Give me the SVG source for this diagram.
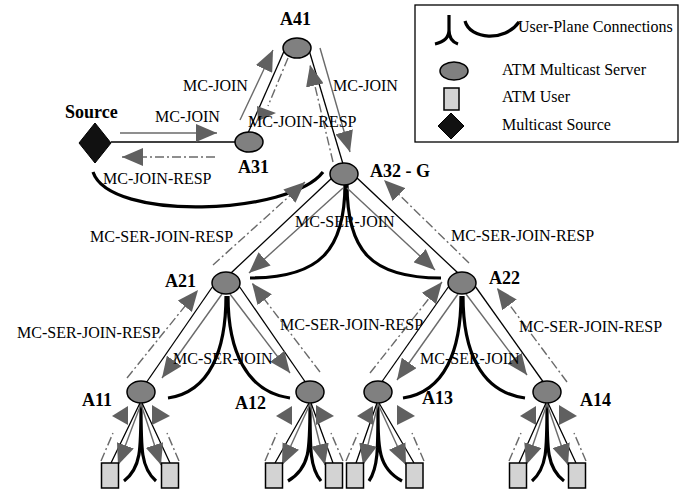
<svg xmlns="http://www.w3.org/2000/svg" width="688" height="489" viewBox="0 0 688 489">
<style>
.edge{stroke:#000;stroke-width:1.3;fill:none}
.up{stroke:#000;stroke-width:3.2;fill:none}
.req{stroke:#6a6a6a;stroke-width:1.4;fill:none;marker-end:url(#ah)}
.resp{stroke:#6a6a6a;stroke-width:1.4;stroke-dasharray:9 3 2 3;fill:none}
.respa{stroke:#6a6a6a;stroke-width:1.4;stroke-dasharray:9 3 2 3;fill:none;marker-end:url(#ah)}
.tri{fill:#606060}
.srv{fill:#808080;stroke:#000;stroke-width:1.5}
.usr{fill:#d3d3d3;stroke:#000;stroke-width:1.5}
.src{fill:#111;stroke:#000;stroke-width:1}
text{font-family:"Liberation Serif","Times New Roman",serif;fill:#000}
.lbl{font-size:16px}
.nl{font-size:18px;font-weight:bold}
.leg{font-size:16px}
</style>
<defs>
<marker id="ah" markerWidth="21" markerHeight="18" refX="21" refY="9" orient="auto" markerUnits="userSpaceOnUse">
<path d="M0,0 L21,9 L0,18 z" fill="#606060"/>
</marker>
</defs>
<rect width="688" height="489" fill="#fff"/>

<g id="legend">
<rect x="415" y="5" width="263" height="137" fill="none" stroke="#000" stroke-width="1.3"/>
<path class="up" d="M449,15 L449,30 C449,38 444,42 435,44 M449,30 C449,38 452,42 458,44"/>
<path class="up" d="M465,21 C470,40 505,42 519,22"/>
<text class="leg" x="518" y="32">User-Plane Connections</text>
<ellipse class="srv" cx="454" cy="71" rx="14" ry="9"/>
<text class="leg" x="502" y="75">ATM Multicast Server</text>
<rect class="usr" x="444" y="88" width="15" height="22"/>
<text class="leg" x="502" y="102">ATM User</text>
<polygon class="src" points="451,113 464,126 451,139 438,126"/>
<text class="leg" x="502" y="130">Multicast Source</text>
</g>

<g id="connectors">
<path class="edge" d="M111,142 L235,142"/>
<path class="edge" d="M248,133 L285,49"/>
<path class="edge" d="M309,50 L343,164"/>
<path class="edge" d="M333,177 L231,273"/>
<path class="edge" d="M356,177 L458,273"/>
<path class="edge" d="M213,286 L146,383"/>
<path class="edge" d="M239,286 L306,383"/>
<path class="edge" d="M449,286 L381,383"/>
<path class="edge" d="M475,286 L544,383"/>
<path class="up" d="M93,172 C110,222 290,215 323,172"/>
<path class="up" d="M345,184 C345,250 320,278 250,278"/>
<path class="up" d="M347,184 C347,250 370,278 441,278"/>
<path class="up" d="M226,296 C226,350 210,392 168,398"/>
<path class="up" d="M228,296 C228,350 246,392 290,398"/>
<path class="up" d="M461,296 C461,350 445,392 403,398"/>
<path class="up" d="M463,296 C463,350 480,392 525,398"/>
<path class="req" d="M120,133 L217,133"/>
<path class="respa" d="M215,157 L122,157"/>
<path class="req" d="M240,120 L273,50"/>
<path class="resp" d="M288,58 L268,106"/>
<polygon class="tri" points="257,106 276,113 258,121"/>
<path class="req" d="M320,48 L350,152"/>
<path class="respa" d="M333,162 L310,65"/>
<path class="req" d="M343,188 L249,273"/>
<path class="req" d="M347,188 L435,270"/>
<path class="respa" d="M213,265 L305,182"/>
<path class="respa" d="M469,263 L384,180"/>
<path class="req" d="M222,294 L162,378"/>
<path class="req" d="M230,294 L290,373"/>
<path class="respa" d="M127,378 L198,290"/>
<path class="respa" d="M320,372 L252,283"/>
<path class="req" d="M458,294 L397,380"/>
<path class="req" d="M466,294 L527,375"/>
<path class="respa" d="M370,373 L442,282"/>
<path class="respa" d="M567,382 L497,288"/>
<path class="edge" d="M140,403 L111,463 M142,403 L170,463"/>
<path class="up" d="M141,404 C141,450 141,468 124,481 M141,404 C141,450 141,468 156,481"/>
<path class="req" d="M141,404 L118,465"/>
<path class="req" d="M141,404 L161,465"/>
<path class="resp" d="M101,461 L113,433 M179,461 L167,433"/>
<polygon class="tri" points="112,416 128,406 128,425"/>
<polygon class="tri" points="152,405 170,416 152,425"/>
<path class="edge" d="M309,403 L275,463 M311,403 L333,463"/>
<path class="up" d="M310,404 C310,450 310,468 288,481 M310,404 C310,450 310,468 321,481"/>
<path class="req" d="M310,404 L282,465"/>
<path class="req" d="M310,404 L325,465"/>
<path class="resp" d="M265,461 L277,433 M343,461 L331,433"/>
<polygon class="tri" points="276,416 292,406 292,425"/>
<polygon class="tri" points="316,405 334,416 316,425"/>
<path class="edge" d="M377,403 L356,463 M379,403 L414,463"/>
<path class="up" d="M378,404 C378,450 378,468 369,481 M378,404 C378,450 378,468 402,481"/>
<path class="req" d="M378,404 L363,465"/>
<path class="req" d="M378,404 L406,465"/>
<path class="resp" d="M346,461 L358,433 M424,461 L412,433"/>
<polygon class="tri" points="357,416 373,406 373,425"/>
<polygon class="tri" points="397,405 415,416 397,425"/>
<path class="edge" d="M546,403 L519,463 M548,403 L576,463"/>
<path class="up" d="M547,404 C547,450 547,468 532,481 M547,404 C547,450 547,468 564,481"/>
<path class="req" d="M547,404 L526,465"/>
<path class="req" d="M547,404 L568,465"/>
<path class="resp" d="M509,461 L521,433 M586,461 L574,433"/>
<polygon class="tri" points="520,416 536,406 536,425"/>
<polygon class="tri" points="559,405 577,416 559,425"/>
<text class="lbl" x="155" y="122">MC-JOIN</text>
<text class="lbl" x="103" y="184">MC-JOIN-RESP</text>
<text class="lbl" x="183" y="91">MC-JOIN</text>
<text class="lbl" x="333" y="91">MC-JOIN</text>
<text class="lbl" x="248" y="127">MC-JOIN-RESP</text>
<text class="lbl" x="90" y="242">MC-SER-JOIN-RESP</text>
<text class="lbl" x="295" y="227">MC-SER-JOIN</text>
<text class="lbl" x="451" y="241">MC-SER-JOIN-RESP</text>
<text class="lbl" x="17" y="338">MC-SER-JOIN-RESP</text>
<text class="lbl" x="280" y="330">MC-SER-JOIN-RESP</text>
<text class="lbl" x="519" y="332">MC-SER-JOIN-RESP</text>
<text class="lbl" x="173" y="364">MC-SER-JOIN</text>
<text class="lbl" x="420" y="364">MC-SER-JOIN</text>
</g>

<g id="Source"><polygon class="src" points="95,123 111,143 95,163 79,143"/><text class="nl" x="65" y="118">Source</text></g>
<g id="A41"><ellipse class="srv" cx="297" cy="48" rx="14" ry="10"/><text class="nl" x="280" y="25">A41</text></g>
<g id="A31"><ellipse class="srv" cx="249" cy="142" rx="14" ry="10"/><text class="nl" x="238" y="173">A31</text></g>
<g id="A32"><ellipse class="srv" cx="344" cy="174" rx="14" ry="11"/><text class="nl" x="370" y="177">A32 - G</text></g>
<g id="A21"><ellipse class="srv" cx="226" cy="283" rx="14" ry="11"/><text class="nl" x="165" y="287">A21</text></g>
<g id="A22"><ellipse class="srv" cx="462" cy="283" rx="14" ry="11"/><text class="nl" x="489" y="284">A22</text></g>
<g id="A11"><ellipse class="srv" cx="141" cy="392" rx="14" ry="11"/><text class="nl" x="82" y="406">A11</text></g>
<g id="A12"><ellipse class="srv" cx="310" cy="392" rx="14" ry="11"/><text class="nl" x="235" y="409">A12</text></g>
<g id="A13"><ellipse class="srv" cx="378" cy="392" rx="14" ry="11"/><text class="nl" x="422" y="404">A13</text></g>
<g id="A14"><ellipse class="srv" cx="547" cy="392" rx="14" ry="11"/><text class="nl" x="580" y="406">A14</text></g>
<g id="U11a"><rect class="usr" x="101.5" y="463" width="17" height="25"/></g>
<g id="U11b"><rect class="usr" x="161.5" y="463" width="17" height="25"/></g>
<g id="U12a"><rect class="usr" x="265.5" y="463" width="17" height="25"/></g>
<g id="U12b"><rect class="usr" x="325.5" y="463" width="17" height="25"/></g>
<g id="U13a"><rect class="usr" x="346.5" y="463" width="17" height="25"/></g>
<g id="U13b"><rect class="usr" x="406" y="463" width="17" height="25"/></g>
<g id="U14a"><rect class="usr" x="509.5" y="463" width="17" height="25"/></g>
<g id="U14b"><rect class="usr" x="568.5" y="463" width="17" height="25"/></g>
</svg>
